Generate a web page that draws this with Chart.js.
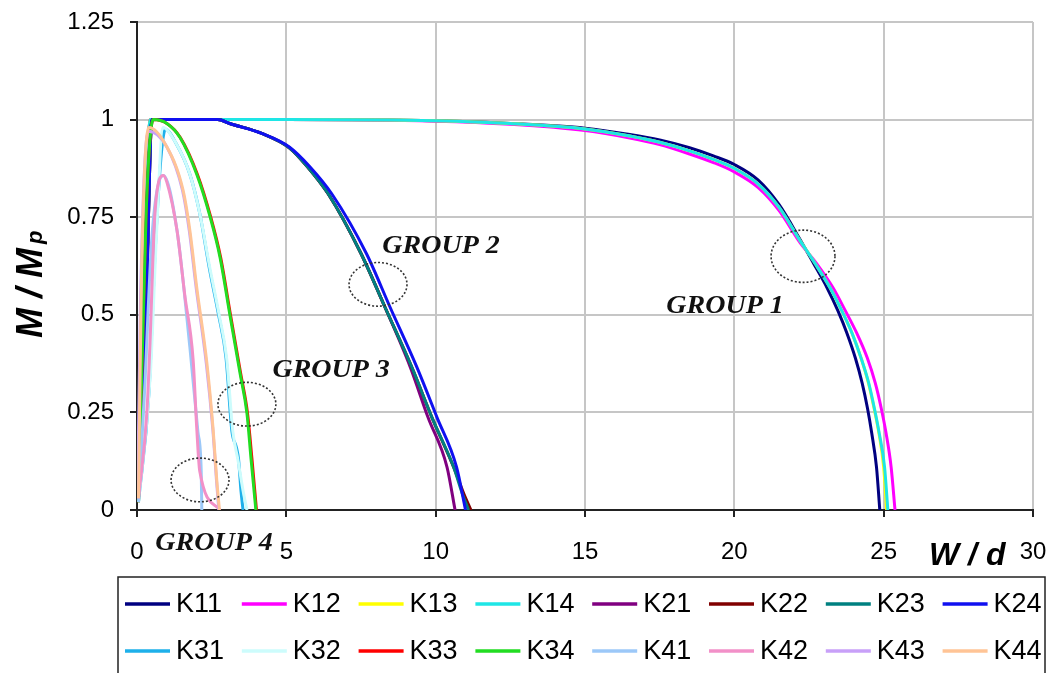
<!DOCTYPE html>
<html>
<head>
<meta charset="utf-8">
<script src="https://cdn.jsdelivr.net/npm/chart.js@4"></script>
<style>
  html, body { margin: 0; padding: 0; background: #fff; }
  #wrap { width: 1056px; height: 673px; }
</style>
</head>
<body>
<div id="wrap"><canvas id="momentChart" width="1056" height="673"></canvas></div>
<script>
// M/Mp against W/d, four groups of four specimens

const seriesNames = ['K11', 'K12', 'K13', 'K14', 'K21', 'K22', 'K23', 'K24',
                     'K31', 'K32', 'K33', 'K34', 'K41', 'K42', 'K43', 'K44'];
const seriesColors = ['#000080', '#ff00ff', '#ffff00', '#1ee6e6', '#800080', '#800000', '#008080', '#1010f0',
                      '#1eb0ea', '#cdfcfc', '#ff0000', '#22dd22', '#9cc8f8', '#f290c8', '#c8a0f8', '#ffc496'];

const xTicks = [0, 5, 10, 15, 20, 25, 30];
const xTickLabels = ['0', '5', '10', '15', '20', '25', '30'];
const yTicks = [0, 0.25, 0.5, 0.75, 1, 1.25];
const yTickLabels = ['0', '0.25', '0.5', '0.75', '1', '1.25'];

// group 1
const k11X = [0.05, 0.45, 5, 10, 12.5, 15, 16.5, 17.5, 18.5, 19.3, 20, 20.8, 21.5, 22.2, 22.65, 23.1, 23.47, 23.77, 24.05, 24.28, 24.46, 24.6, 24.76, 24.87];
const k11Y = [0.03, 1, 1, 0.997, 0.99, 0.978, 0.962, 0.948, 0.928, 0.907, 0.885, 0.845, 0.782, 0.693, 0.632, 0.57, 0.51, 0.453, 0.39, 0.325, 0.26, 0.197, 0.11, 0];
const k12X = [0.05, 0.45, 5, 10, 12.5, 15, 16.5, 17.5, 18.5, 19.3, 20, 20.8, 21.5, 22.2, 22.75, 23.3, 23.72, 24.1, 24.45, 24.72, 24.92, 25.08, 25.25, 25.38];
const k12Y = [0.03, 1, 1, 0.996, 0.988, 0.972, 0.953, 0.936, 0.912, 0.89, 0.866, 0.826, 0.767, 0.685, 0.632, 0.57, 0.51, 0.453, 0.39, 0.325, 0.26, 0.197, 0.11, 0];
const k13X = [0.05, 0.45, 5, 10, 12.5, 15, 16.5, 17.5, 18.5, 19.3, 20, 20.8, 21.5, 22.2, 22.7, 23.2, 23.6, 23.94, 24.24, 24.49, 24.68, 24.84, 25.0, 25.1];
const k13Y = [0.03, 1, 1, 0.997, 0.99, 0.976, 0.958, 0.942, 0.92, 0.898, 0.875, 0.835, 0.775, 0.69, 0.632, 0.57, 0.51, 0.453, 0.39, 0.325, 0.26, 0.197, 0.11, 0];
const k14X = [0.05, 0.45, 5, 10, 12.5, 15, 16.5, 17.5, 18.5, 19.3, 20, 20.8, 21.5, 22.2, 22.7, 23.2, 23.6, 23.94, 24.24, 24.5, 24.69, 24.85, 25.03, 25.14];
const k14Y = [0.03, 1, 1, 0.997, 0.99, 0.976, 0.958, 0.942, 0.92, 0.898, 0.875, 0.835, 0.775, 0.69, 0.632, 0.57, 0.51, 0.453, 0.39, 0.325, 0.26, 0.197, 0.11, 0];

// group 2
const k21X = [0.05, 0.3, 0.5, 2.0, 2.7, 3.1, 4.2, 5.1, 5.7, 6.4, 7.5, 8.3, 9.15, 9.74, 10.38, 10.65];
const k21Y = [0.03, 0.5, 1, 1, 1, 0.99, 0.964, 0.928, 0.88, 0.81, 0.657, 0.52, 0.366, 0.238, 0.11, 0];
const k22X = [0.05, 0.3, 0.5, 2.0, 2.7, 3.1, 4.2, 5.1, 5.7, 6.4, 7.5, 8.3, 9.2, 9.87, 10.6, 10.95, 11.18];
const k22Y = [0.03, 0.5, 1, 1, 1, 0.99, 0.964, 0.928, 0.88, 0.81, 0.657, 0.52, 0.366, 0.238, 0.11, 0.04, 0];
const k23X = [0.05, 0.3, 0.5, 2.0, 2.7, 3.1, 4.2, 5.1, 5.7, 6.4, 7.5, 8.3, 9.2, 9.87, 10.6, 10.9, 11.1];
const k23Y = [0.03, 0.5, 1, 1, 1, 0.99, 0.964, 0.928, 0.88, 0.81, 0.657, 0.52, 0.366, 0.238, 0.11, 0.04, 0];
const k24X = [0.05, 0.3, 0.5, 2.0, 2.7, 3.1, 4.2, 5.1, 5.78, 6.52, 7.68, 8.47, 9.37, 10.04, 10.7, 11.0];
const k24Y = [0.03, 0.5, 1, 1, 1, 0.99, 0.964, 0.93, 0.88, 0.81, 0.657, 0.52, 0.366, 0.238, 0.11, 0];

// group 3
const k31X = [0.05, 0.4, 0.6, 0.8, 0.95, 1.3, 1.77, 2.1, 2.42, 2.73, 2.98, 3.18, 3.33, 3.4, 3.48, 3.55];
const k31Y = [0.02, 0.3, 0.65, 0.9, 0.975, 0.94, 0.86, 0.76, 0.62, 0.5, 0.39, 0.2, 0.16, 0.13, 0.05, 0];
const k32X = [0.05, 0.45, 0.65, 0.87, 1.3, 1.77, 2.1, 2.44, 2.75, 3.0, 3.21, 3.38, 3.55, 3.68];
const k32Y = [0.02, 0.35, 0.7, 0.98, 0.94, 0.86, 0.76, 0.62, 0.5, 0.39, 0.2, 0.128, 0.05, 0];
const k33X = [0.05, 0.3, 0.54, 1.0, 1.45, 2.02, 2.47, 2.8, 3.13, 3.47, 3.7, 3.85, 4.0];
const k33Y = [0.02, 0.75, 1.0, 0.99, 0.954, 0.86, 0.75, 0.647, 0.5, 0.35, 0.248, 0.13, 0];
const k34X = [0.05, 0.3, 0.54, 1.0, 1.44, 2.0, 2.45, 2.78, 3.11, 3.45, 3.68, 3.82, 3.98];
const k34Y = [0.02, 0.75, 1.0, 0.99, 0.954, 0.86, 0.75, 0.647, 0.5, 0.35, 0.248, 0.13, 0];

// group 4
const k41X = [0.05, 0.25, 0.5, 0.88, 1.34, 1.77, 2.04, 2.15, 2.17];
const k41Y = [0.02, 0.3, 0.7, 0.857, 0.716, 0.417, 0.2, 0.1, 0];
const k42X = [0.05, 0.33, 0.43, 0.6, 0.88, 1.0, 1.34, 1.6, 1.88, 2.0, 2.1, 2.78];
const k42Y = [0.03, 0.248, 0.417, 0.76, 0.857, 0.84, 0.716, 0.55, 0.384, 0.21, 0.1, 0];
const k43X = [0.02, 0.12, 0.38, 1.0, 1.52, 1.75, 1.98, 2.32, 2.54, 2.66, 2.74];
const k43Y = [0.03, 0.55, 0.97, 0.93, 0.82, 0.716, 0.57, 0.376, 0.205, 0.077, 0];
const k44X = [0.05, 0.15, 0.4, 1.0, 1.54, 1.77, 2.0, 2.34, 2.55, 2.67, 2.76];
const k44Y = [0.03, 0.6, 0.98, 0.93, 0.82, 0.716, 0.57, 0.376, 0.205, 0.077, 0];

const seriesX = [k11X, k12X, k13X, k14X, k21X, k22X, k23X, k24X, k31X, k32X, k33X, k34X, k41X, k42X, k43X, k44X];
const seriesY = [k11Y, k12Y, k13Y, k14Y, k21Y, k22Y, k23Y, k24Y, k31Y, k32Y, k33Y, k34Y, k41Y, k42Y, k43Y, k44Y];

// group captions and dotted rings, in data units
const groupLabels = ['GROUP 1', 'GROUP 2', 'GROUP 3', 'GROUP 4'];
const groupLabelX = [19.69, 10.18, 6.5, 2.58];
const groupLabelY = [0.504, 0.658, 0.34, -0.102];
const ringX = [22.3, 8.07, 3.68, 2.11];
const ringY = [0.65, 0.578, 0.271, 0.077];
const ringRx = [1.07, 0.97, 0.97, 0.97];
const ringRy = [0.067, 0.056, 0.056, 0.056];

const PLOT_LEFT = 137;
const PLOT_BOTTOM = 510;

function buildDatasets() {
    return seriesNames.map((name, i) => ({
        label: name,
        data: seriesX[i].map((x, j) => ({ x: x, y: seriesY[i][j] })),
        borderColor: seriesColors[i],
        backgroundColor: seriesColors[i],
        borderWidth: 3,
        showLine: true,
        pointRadius: 0,
        cubicInterpolationMode: 'monotone',
        order: seriesNames.length - i   // later series sit on top
    }));
}

const decorations = {
    id: 'decorations',
    afterDraw(chart) {
        const ctx = chart.ctx;
        const xs = chart.scales.x;
        const ys = chart.scales.y;

        // dotted rings
        ctx.save();
        ctx.strokeStyle = '#333';
        ctx.lineWidth = 1.6;
        ctx.setLineDash([2, 2]);
        ringX.forEach((cx, i) => {
            const px = xs.getPixelForValue(cx);
            const py = ys.getPixelForValue(ringY[i]);
            const rx = xs.getPixelForValue(cx + ringRx[i]) - px;
            const ry = py - ys.getPixelForValue(ringY[i] + ringRy[i]);
            ctx.beginPath();
            ctx.ellipse(px, py, rx, ry, 0, 0, Math.PI * 2);
            ctx.stroke();
        });
        ctx.restore();

        // group captions
        ctx.save();
        ctx.fillStyle = '#111';
        ctx.font = 'italic bold 25px "Liberation Serif", "Times New Roman", serif';
        ctx.textAlign = 'center';
        ctx.textBaseline = 'alphabetic';
        groupLabels.forEach((txt, i) => {
            const px = xs.getPixelForValue(groupLabelX[i]);
            const py = ys.getPixelForValue(groupLabelY[i]);
            ctx.save();
            ctx.translate(px, py);
            ctx.scale(1.12, 1);
            ctx.fillText(txt, 0, 0);
            ctx.restore();
        });
        ctx.restore();

        // axis titles
        ctx.save();
        ctx.fillStyle = '#000';
        ctx.textBaseline = 'alphabetic';
        ctx.font = 'italic bold 32px "Liberation Sans", Arial, sans-serif';
        ctx.textAlign = 'left';
        ctx.fillText('W / d', 929, 565);

        ctx.translate(42, 338);
        ctx.rotate(-Math.PI / 2);
        ctx.font = 'italic bold 36px "Liberation Sans", Arial, sans-serif';
        ctx.fillText('M / M', 0, 0);
        const w = ctx.measureText('M / M').width;
        ctx.font = 'italic bold 22px "Liberation Sans", Arial, sans-serif';
        ctx.fillText('p', w + 4, 0);
        ctx.restore();

        // legend box
        ctx.save();
        ctx.strokeStyle = '#222';
        ctx.lineWidth = 1.5;
        ctx.strokeRect(118, 577, 927, 130);
        ctx.font = '27px "Liberation Sans", Arial, sans-serif';
        ctx.textBaseline = 'middle';
        ctx.textAlign = 'left';
        chart.data.datasets.forEach((ds, i) => {
            const col = i % 8;
            const row = Math.floor(i / 8);
            const lx = 125 + col * 116.8;
            const ly = 604 + row * 47;
            ctx.strokeStyle = ds.borderColor;
            ctx.lineWidth = 3.5;
            ctx.beginPath();
            ctx.moveTo(lx, ly);
            ctx.lineTo(lx + 45, ly);
            ctx.stroke();
            ctx.fillStyle = '#000';
            ctx.fillText(ds.label, lx + 51, ly + 1);
        });
        ctx.restore();
    }
};

const tickFont = { family: '"Liberation Sans", Arial, sans-serif', size: 24 };

new Chart(document.getElementById('momentChart').getContext('2d'), {
    type: 'scatter',
    data: { datasets: buildDatasets() },
    options: {
        responsive: false,
        animation: false,
        layout: { padding: { top: 22, right: 23, left: 0, bottom: 0 } },
        plugins: {
            legend: { display: false },
            tooltip: { enabled: false }
        },
        scales: {
            x: {
                type: 'linear',
                min: 0,
                max: 30,
                afterBuildTicks: (scale) => { scale.ticks = xTicks.map(v => ({ value: v })); },
                afterFit: (scale) => {
                    scale.height = 673 - PLOT_BOTTOM;
                    scale.paddingLeft = 0;
                    scale.paddingRight = 0;
                },
                ticks: {
                    color: '#000', font: tickFont, padding: 21, maxRotation: 0, autoSkip: false,
                    callback: (v) => xTickLabels[xTicks.indexOf(v)]
                },
                grid: { color: '#c6c6c6', lineWidth: 2, tickColor: '#222', tickLength: 7 },
                border: { color: '#222', width: 2 }
            },
            y: {
                type: 'linear',
                min: 0,
                max: 1.25,
                afterBuildTicks: (scale) => { scale.ticks = yTicks.map(v => ({ value: v })); },
                afterFit: (scale) => {
                    scale.width = PLOT_LEFT;
                    scale.paddingTop = 0;
                    scale.paddingBottom = 0;
                },
                ticks: {
                    color: '#000', font: tickFont, padding: 16, autoSkip: false,
                    callback: (v) => yTickLabels[yTicks.indexOf(v)]
                },
                grid: { color: '#c6c6c6', lineWidth: 2, tickColor: '#222', tickLength: 7 },
                border: { color: '#222', width: 2 }
            }
        }
    },
    plugins: [decorations]
});
</script>
</body>
</html>
